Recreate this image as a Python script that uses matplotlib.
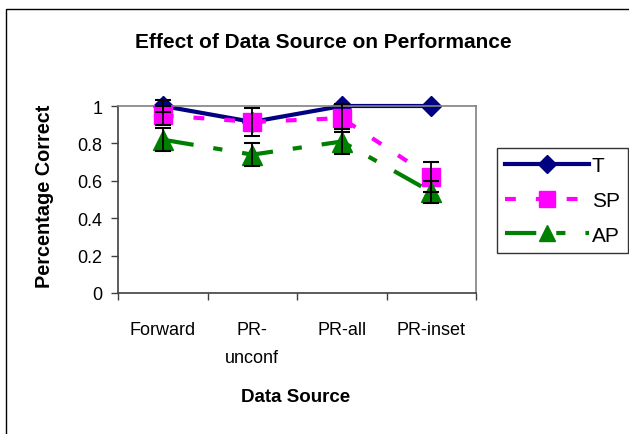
import matplotlib
matplotlib.use("Agg")
import matplotlib.pyplot as plt
from matplotlib.patches import Rectangle
from matplotlib.lines import Line2D
import numpy as np

plt.rcParams['font.family'] = ['Liberation Sans', 'DejaVu Sans']

categories = ["Forward", "PR-\nunconf", "PR-all", "PR-inset"]
T_vals = [1.0, 0.915, 1.0, 1.0]
T_err = [0.03, 0.0, 0.0, 0.0]
SP_vals = [0.95, 0.915, 0.935, 0.62]
SP_err = [0.05, 0.075, 0.075, 0.08]
AP_vals = [0.82, 0.74, 0.81, 0.54]
AP_err = [0.06, 0.06, 0.065, 0.06]
yticks = [0, 0.2, 0.4, 0.6, 0.8, 1]
ytick_labels = ["0", "0.2", "0.4", "0.6", "0.8", "1"]

W, H = 629, 435
fig = plt.figure(figsize=(W / 100, H / 100), dpi=100)
ax = fig.add_axes([118 / W, 1 - 294 / H, (476 - 118) / W, (294 - 107) / H])

x = np.arange(len(categories))
fs = 13

series = [
    ("T", T_vals, T_err, "#000080", "-", "D", 10.5, 9.0),
    ("SP", SP_vals, SP_err, "#FF00FF", (0, (2.6, 4.8)), "s", 13, 11),
    ("AP", AP_vals, AP_err, "#008000", (0, (7.5, 4.8, 2.2, 4.8)), "^", 14, 11.5),
]
handles = []
for i, (name, vals, err, col, ls, mk, ms, lms) in enumerate(series):
    ax.plot(x, vals, color=col, linestyle=ls, linewidth=3, zorder=2 + i,
            marker=mk, markersize=ms, markerfacecolor=col, markeredgecolor=col,
            solid_capstyle='butt', dash_capstyle='butt', clip_on=False)
    e = np.array(err)
    m = e > 0
    eb = ax.errorbar(x[m], np.array(vals)[m], yerr=e[m], fmt='none', ecolor='black',
                     elinewidth=1.3, capsize=6, capthick=1.5, zorder=6)
    for art in eb.lines[1] + eb.lines[2]:
        art.set_clip_on(False)
    handles.append(Line2D([0], [0], color=col, linestyle=ls, linewidth=3,
                          marker=mk, markersize=lms, markerfacecolor=col,
                          markeredgecolor=col, dash_capstyle='butt'))

ax.set_xlim(-0.5, len(categories) - 0.5)
ax.set_ylim(0, 1)
ax.set_yticks(yticks)
ax.set_yticklabels(ytick_labels, fontsize=fs)
ax.set_xticks(np.arange(len(categories) + 1) - 0.5)
ax.set_xticklabels([])
ax.set_xticks(x, minor=True)
ax.set_xticklabels(categories, minor=True, fontsize=fs)
ax.tick_params(axis='x', which='minor', length=0, pad=20.5)
ax.tick_params(axis='x', which='major', length=5, direction='out', width=1, color='#404040')
ax.tick_params(axis='y', length=5, direction='out', width=1, color='#404040', pad=6)
for lab in ax.get_xticklabels(minor=True):
    lab.set_verticalalignment('top')
    lab.set_linespacing(1.8)

for s in ['left', 'bottom']:
    ax.spines[s].set_color('#404040')
    ax.spines[s].set_linewidth(1.2)
for s in ['top', 'right']:
    ax.spines[s].set_color('#808080')
    ax.spines[s].set_linewidth(1.2)

fig.text(323 / W, 1 - 42 / H, "Effect of Data Source on Performance", ha='center',
         va='center', fontsize=15, fontweight='bold')
fig.text(296 / W, 1 - 398 / H, "Data Source", ha='center', va='center',
         fontsize=13.5, fontweight='bold')
fig.text(45 / W, 1 - 196 / H, "Percentage Correct", ha='center', va='center',
         rotation=90, fontsize=14.3, fontweight='bold')

leg = fig.legend(handles, ["T", "SP", "AP"], loc='upper left',
                 bbox_to_anchor=(497 / W, 1 - 149 / H), fontsize=15,
                 handlelength=4.0, handletextpad=0.15, borderpad=0.4,
                 labelspacing=0.75, frameon=True, fancybox=False,
                 borderaxespad=0)
leg.get_frame().set_edgecolor('black')
leg.get_frame().set_linewidth(1.0)

fig.patches.append(Rectangle((6.5 / W, -0.1), 1.2, 1 - 9.5 / H + 0.1,
                             transform=fig.transFigure, fill=False,
                             edgecolor='black', linewidth=1.0))

fig.savefig("out.png", dpi=100)
